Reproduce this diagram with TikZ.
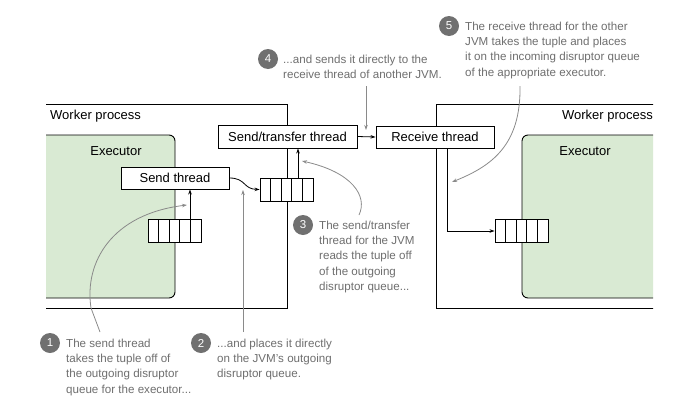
\documentclass[tikz,border=0pt]{standalone}
\usepackage{fontspec}
\setmainfont{Liberation Sans}
\usetikzlibrary{arrows.meta,calc}
\definecolor{exgreen}{HTML}{D9EAD3}
\definecolor{calltext}{HTML}{6E6E6E}
\definecolor{callcirc}{HTML}{707070}
\definecolor{callline}{HTML}{8A8A8A}
\tikzset{
  mainfont/.style={font=\fontsize{13}{15}\selectfont},
  thread/.style={draw=black,line width=0.9pt,fill=white,mainfont,inner sep=0pt,minimum height=22pt},
  queue/.style={draw=black,line width=0.9pt,fill=white,minimum width=53pt,minimum height=23pt,inner sep=0pt},
  boxline/.style={draw=black,line width=0.9pt},
  exec/.style={boxline,fill=exgreen,rounded corners=6pt},
  flow/.style={draw=black,line width=0.8pt,-{Stealth[length=5pt,width=3.5pt]}},
  callarrow/.style={draw=callline,line width=0.8pt,-{Stealth[length=5pt,width=3.5pt]}},
  callline/.style={draw=callline,line width=0.8pt},
  num/.style={circle,fill=callcirc,text=white,minimum size=20pt,inner sep=0pt,font=\fontsize{11.5}{12}\selectfont},
  calltxt/.style={text=calltext,align=left,anchor=north west,inner sep=0pt,font=\fontsize{11.6}{15.3}\selectfont},
  label/.style={mainfont,inner sep=0pt}
}
\begin{document}
\begin{tikzpicture}[x=1pt,y=-1pt]
\useasboundingbox (0,0) rectangle (677,410);
% worker processes and executors (clipped)
\begin{scope}
\clip (46,0) rectangle (653,410);
\draw[boxline] (20,104) rectangle (287,308);
\draw[boxline] (436,104) rectangle (690,308);
\draw[exec] (20,135) rectangle (175,298);
\draw[exec] (522,135) rectangle (690,298);
\end{scope}
\node[label,anchor=west] (wp1) at (50,116) {Worker process};
\node[label,anchor=east] (wp2) at (653,116) {Worker process};
\node[label] (ex1) at (116,151) {Executor};
\node[label] (ex2) at (585,151) {Executor};
% threads
\node[thread,minimum width=108pt] (send) at (175,178) {Send thread};
\node[thread,minimum width=139pt,minimum height=23pt] (transfer) at (287.5,136.5) {Send/transfer thread};
\node[thread,minimum width=118pt] (recv) at (435,137) {Receive thread};
% queues
\node[queue] (q1) at (174.5,230.5) {};
\node[queue] (q2) at (286.5,189.5) {};
\node[queue] (q3) at (521.5,230.5) {};
\foreach \q in {q1,q2,q3}{
  \foreach \i in {1,2,3,4}{
    \draw[line width=0.9pt] ($(\q.south west)!\i/5!(\q.south east)$) -- ($(\q.north west)!\i/5!(\q.north east)$);
  }
}
% flows
\draw[flow] (q1.north -| 190,0) -- (send.south -| 190,0);
\draw[flow] (send.east) .. controls (246,178) and (243,189) .. (q2.west);
\draw[flow] (q2.north -| 298,0) -- (transfer.south -| 298,0);
\draw[flow] (transfer.east) -- (recv.west);
\coordinate (rq) at (447,231);
\draw[flow] (recv.south -| rq) -- (rq) -- (q3.west |- rq);
% callouts
\node[num] (n1) at (50,343) {1};
\node[calltxt] (t1) at (66,338.6) {The send thread\\takes the tuple off of\\the outgoing disruptor\\queue for the executor...};
\node[num] (n2) at (201,343) {2};
\node[calltxt] (t2) at (217,338.6) {...and places it directly\\on the JVM's outgoing\\disruptor queue.};
\node[num] (n3) at (303,225) {3};
\node[calltxt] (t3) at (319,220.6) {The send/transfer\\thread for the JVM\\reads the tuple off\\of the outgoing\\disruptor queue...};
\node[num] (n4) at (268,59) {4};
\node[calltxt] (t4) at (283,54.6) {...and sends it directly to the\\receive thread of another JVM.};
\node[num] (n5) at (449,26) {5};
\node[calltxt] (t5) at (465,21.6) {The receive thread for the other\\JVM takes the tuple and places\\it on the incoming disruptor queue\\of the appropriate executor.};
% callout connectors
\coordinate (c1s) at (100,332); \coordinate (c1e) at (187,205);
\draw[callarrow] (c1s) -- (91,308) .. controls (84,262) and (112,214) .. (c1e);
\coordinate (c2s) at (243,332); \coordinate (c2e) at (243,190);
\draw[callarrow] (c2s) -- (c2e);
\coordinate (c3s) at (359,215); \coordinate (c3e) at (302,161);
\draw[callarrow] (c3s) .. controls (368,196) and (352,172) .. (c3e);
\coordinate (c4s) at (366,86); \coordinate (c4e) at (366,130);
\draw[callarrow] (c4s) -- (c4e);
\coordinate (c5s) at (520,86); \coordinate (c5e) at (452,182);
\draw[callarrow] (c5s) .. controls (521,145) and (492,166) .. (c5e);
\end{tikzpicture}
\end{document}
